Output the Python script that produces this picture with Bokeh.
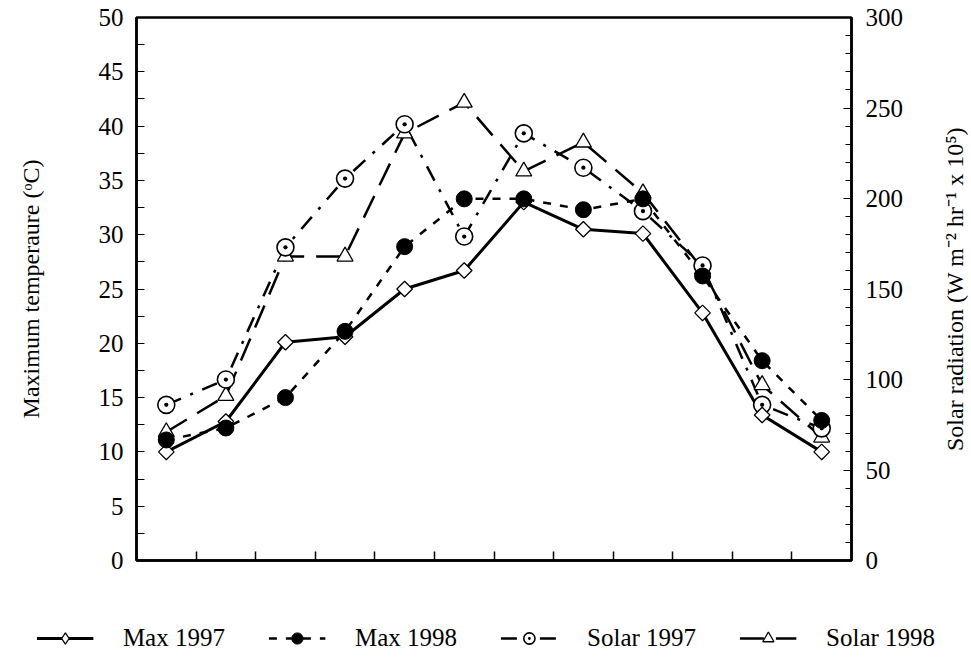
import math
from bokeh.plotting import figure
from bokeh.layouts import row, column
from bokeh.models import Range1d, LinearAxis, FixedTicker, Legend, LegendItem
from bokeh.embed import file_html
from bokeh.resources import INLINE

months = [0.5, 1.5, 2.5, 3.5, 4.5, 5.5, 6.5, 7.5, 8.5, 9.5, 10.5, 11.5]
max_1997 = [10.0, 12.8, 20.1, 20.6, 25.0, 26.7, 33.0, 30.5, 30.1, 22.8, 13.4, 10.0]
max_1998 = [11.1, 12.2, 15.0, 21.1, 28.9, 33.3, 33.3, 32.3, 33.3, 26.2, 18.4, 12.9]
solar_1997 = [86, 100, 173, 211, 241, 179, 236, 217, 193, 163, 86, 73]
solar_1998 = [71, 91, 168, 168, 236, 253, 215, 231, 203, 161, 97, 68]
x_ticks = [1, 2, 3, 4, 5, 6, 7, 8, 9, 10, 11]
left_ticks = [0, 5, 10, 15, 20, 25, 30, 35, 40, 45, 50]
right_ticks = [0, 50, 100, 150, 200, 250, 300]

FONT = "Liberation Serif"

STYLES = {
    "Max 1997": dict(line=dict(line_width=3),
                     mark=dict(marker="square", angle=math.pi / 4, size=11, fill_color="white", line_width=1.3),
                     legend_marker="diamond"),
    "Max 1998": dict(line=dict(line_width=2.5, line_dash="8 9"),
                     mark=dict(marker="circle", size=16, fill_color="black"),
                     legend_marker="circle"),
    "Solar 1997": dict(line=dict(line_width=2.5, line_dash="16 10 3 10"),
                       mark=dict(marker="circle_dot", size=17, fill_color="white", line_width=1.6),
                       legend_marker="circle_dot"),
    "Solar 1998": dict(line=dict(line_width=2.5, line_dash="24 12"),
                       mark=dict(marker="triangle", size=16, fill_color="white", line_width=1.3),
                       legend_marker="triangle"),
}
SERIES = [("Max 1997", max_1997, "default"), ("Max 1998", max_1998, "default"),
          ("Solar 1997", solar_1997, "solar"), ("Solar 1998", solar_1998, "solar")]
MARK_ORDER = ["Solar 1998", "Solar 1997", "Max 1997", "Max 1998"]


def add_series(fig, for_legend=False):
    data = {name: (vals, rng) for name, vals, rng in SERIES}
    lines, marks = {}, {}
    for name, vals, rng in SERIES:
        lines[name] = fig.line(months, vals, y_range_name=rng, line_color="black",
                               **STYLES[name]["line"])
    for name in MARK_ORDER:
        vals, rng = data[name]
        kw = dict(STYLES[name]["mark"])
        if for_legend:
            kw["marker"] = STYLES[name]["legend_marker"]
            kw.pop("angle", None)
        marks[name] = fig.scatter(months, vals, y_range_name=rng, line_color="black", **kw)
    return lines, marks


# ---------------- main plot ----------------
p = figure(width=910, height=611, output_backend="svg", toolbar_location=None,
           x_range=Range1d(0, 12), y_range=Range1d(0, 50),
           min_border_left=136, min_border_right=59, min_border_top=17, min_border_bottom=51)
p.extra_y_ranges = {"solar": Range1d(0, 300)}
p.grid.visible = False
p.outline_line_color = "black"
p.outline_line_width = 2.5

xa = p.xaxis[0]
xa.ticker = FixedTicker(ticks=x_ticks)
xa.major_label_text_color = None
xa.major_label_standoff = 0
xa.major_tick_in = 9
xa.major_tick_out = 0
xa.minor_tick_line_color = None
xa.axis_line_width = 2.5
xa.major_tick_line_width = 1.5
xa.axis_line_color = "black"
xa.major_tick_line_color = "black"

ya = p.yaxis[0]
ya.ticker = FixedTicker(ticks=left_ticks, minor_ticks=[2.5 + 5 * i for i in range(10)])
ya.axis_label = "Maximum temperaure (ᵒC)"
ya.axis_label_text_font = FONT
ya.axis_label_text_font_style = "normal"
ya.axis_label_text_font_size = "24px"
ya.axis_label_text_color = "black"
ya.axis_label_standoff = 52
ya.major_label_text_font = FONT
ya.major_label_text_font_size = "25px"
ya.major_label_text_color = "black"
ya.major_tick_in = 8
ya.major_tick_out = 0
ya.minor_tick_in = 8
ya.minor_tick_out = 0
ya.axis_line_width = 2.5
ya.axis_line_color = "black"
ya.major_tick_line_color = "black"
ya.minor_tick_line_color = "black"
ya.major_label_standoff = 13

ra = LinearAxis(y_range_name="solar")
ra.ticker = FixedTicker(ticks=right_ticks, minor_ticks=[v for v in range(10, 300, 10) if v % 50 != 0])
ra.major_label_text_font = FONT
ra.major_label_text_font_size = "25px"
ra.major_label_text_color = "black"
ra.major_tick_in = 8
ra.major_tick_out = 0
ra.minor_tick_in = 6
ra.minor_tick_out = 0
ra.axis_line_width = 2.5
ra.axis_line_color = "black"
ra.major_tick_line_color = "black"
ra.minor_tick_line_color = "black"
ra.major_label_standoff = 14
p.add_layout(ra, "right")

add_series(p)

# ---------------- right-hand axis title (reads bottom-to-top) ----------------
p2 = figure(width=61, height=611, output_backend="svg", toolbar_location=None,
            x_range=Range1d(0, 1), y_range=Range1d(0, 300),
            min_border_left=57, min_border_right=0, min_border_top=17, min_border_bottom=51)
p2.outline_line_color = None
p2.grid.visible = False
p2.xaxis.visible = False
ta = p2.yaxis[0]
ta.ticker = FixedTicker(ticks=[])
ta.axis_line_color = None
ta.major_tick_line_color = None
ta.minor_tick_line_color = None
ta.major_label_text_color = None
ta.axis_label = "Solar radiation (W m⁻² hr⁻¹ x 10⁵)"
ta.axis_label_text_font = FONT
ta.axis_label_text_font_style = "normal"
ta.axis_label_text_font_size = "24px"
ta.axis_label_text_color = "black"
ta.axis_label_standoff = 0

# ---------------- legend strip ----------------
pl = figure(width=971, height=53, output_backend="svg", toolbar_location=None,
            x_range=Range1d(-20, -19), y_range=Range1d(0, 50),
            min_border_left=0, min_border_right=0, min_border_top=0, min_border_bottom=0)
pl.extra_y_ranges = {"solar": Range1d(0, 300)}
pl.outline_line_color = None
pl.grid.visible = False
pl.axis.visible = False
lines, marks = add_series(pl, for_legend=True)

legend = Legend(items=[LegendItem(label=name, renderers=[lines[name], marks[name]])
                       for name, _, _ in SERIES],
                orientation="horizontal", location="center")
legend.label_text_font = FONT
legend.label_text_font_size = "25px"
legend.label_text_color = "black"
legend.glyph_width = 57
legend.glyph_height = 28
legend.label_standoff = 30
legend.spacing = 43
legend.border_line_color = None
legend.background_fill_alpha = 0
legend.margin = 0
legend.padding = 0
pl.add_layout(legend, "center")

layout = column(row(p, p2, spacing=0), pl, spacing=0)

with open("out.html", "w") as f:
    f.write(file_html(layout, INLINE))
